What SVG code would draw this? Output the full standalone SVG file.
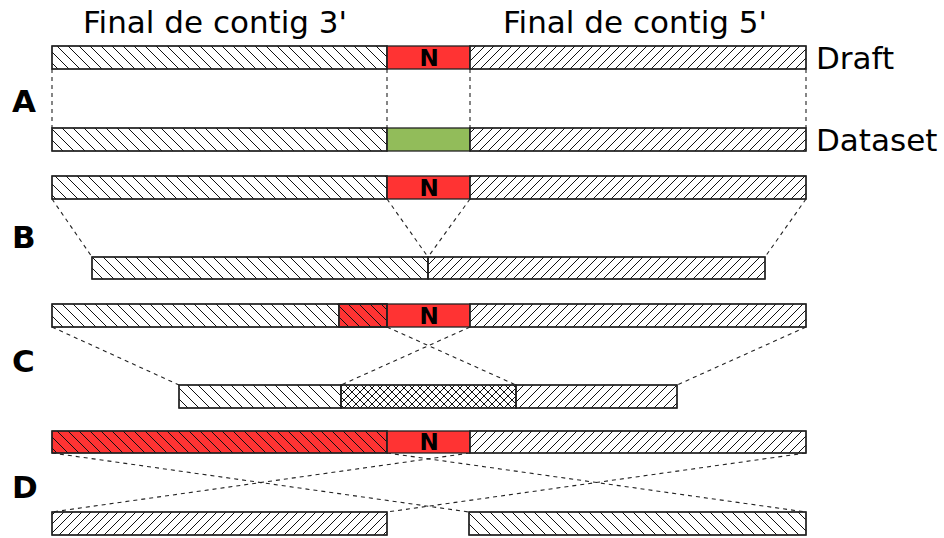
<svg xmlns="http://www.w3.org/2000/svg" width="944" height="538" viewBox="0 0 944 538">
<defs>
<pattern id="back" patternUnits="userSpaceOnUse" width="11" height="11">
<path d="M0,0 L11,11 M-1,10 L1,12 M10,-1 L12,1" stroke="#111" stroke-width="1" fill="none"/>
</pattern>
<pattern id="fwd" patternUnits="userSpaceOnUse" width="9" height="9">
<path d="M0,9 L9,0 M-1,1 L1,-1 M8,10 L10,8" stroke="#111" stroke-width="1" fill="none"/>
</pattern>
<pattern id="cross" patternUnits="userSpaceOnUse" width="8" height="8">
<path d="M0,0 L8,8 M-1,7 L1,9 M7,-1 L9,1 M0,8 L8,0 M-1,1 L1,-1 M7,9 L9,7" stroke="#111" stroke-width="1" fill="none"/>
</pattern>
</defs>
<style>
.bar{stroke:#222;stroke-width:1.3}
.w{fill:#fff}
.red{fill:#ff3333}
.green{fill:#92bc5a}
.b{fill:url(#back)}
.f{fill:url(#fwd)}
.x{fill:url(#cross)}
.dash{stroke:#222;stroke-width:1.1;stroke-dasharray:4,4;fill:none}
.title{font-family:"DejaVu Sans",sans-serif;font-size:31px;fill:#000}
.lab{font-family:"DejaVu Sans",sans-serif;font-size:31px;font-weight:bold;fill:#000}
.n{font-family:"DejaVu Sans",sans-serif;font-size:23px;font-weight:bold;fill:#000;text-anchor:middle}
</style>
<g id="titles">
<text class="title" x="83" y="33">Final de contig 3'</text>
<text class="title" x="503" y="33">Final de contig 5'</text>
<text class="title" x="816" y="69">Draft</text>
<text class="title" x="816" y="151">Dataset</text>
</g>
<g id="labels">
<text class="lab" x="12" y="112">A</text>
<text class="lab" x="12" y="248">B</text>
<text class="lab" x="12" y="372">C</text>
<text class="lab" x="12" y="498">D</text>
</g>
<g id="connectors">
<line class="dash" x1="52" y1="69" x2="52" y2="128"/>
<line class="dash" x1="387" y1="69" x2="387" y2="128"/>
<line class="dash" x1="470" y1="69" x2="470" y2="128"/>
<line class="dash" x1="806" y1="69" x2="806" y2="128"/>
<line class="dash" x1="52" y1="199" x2="92" y2="257"/>
<line class="dash" x1="387" y1="199" x2="428" y2="257"/>
<line class="dash" x1="470" y1="199" x2="428" y2="257"/>
<line class="dash" x1="806" y1="199" x2="765" y2="257"/>
<line class="dash" x1="52" y1="327" x2="179" y2="385"/>
<line class="dash" x1="387" y1="327" x2="516" y2="385"/>
<line class="dash" x1="470" y1="327" x2="341" y2="385"/>
<line class="dash" x1="806" y1="327" x2="677" y2="385"/>
<line class="dash" x1="52" y1="453" x2="469" y2="512"/>
<line class="dash" x1="387" y1="453" x2="806" y2="512"/>
<line class="dash" x1="470" y1="453" x2="52" y2="512"/>
<line class="dash" x1="806" y1="453" x2="387" y2="512"/>
</g>
<g id="A-draft">
<rect class="bar w" x="52" y="46" width="335" height="23"/>
<rect class="b" x="52" y="46" width="335" height="23"/>
<rect class="bar red" x="387" y="46" width="83" height="23"/>
<rect class="bar w" x="470" y="46" width="336" height="23"/>
<rect class="f" x="470" y="46" width="336" height="23"/>
<rect class="bar" fill="none" x="52" y="46" width="335" height="23"/>
<rect class="bar" fill="none" x="470" y="46" width="336" height="23"/>
<text class="n" x="429" y="66">N</text>
</g>
<g id="A-dataset">
<rect class="bar w" x="52" y="128" width="335" height="23"/>
<rect class="b" x="52" y="128" width="335" height="23"/>
<rect class="bar green" x="387" y="128" width="83" height="23"/>
<rect class="bar w" x="470" y="128" width="336" height="23"/>
<rect class="f" x="470" y="128" width="336" height="23"/>
<rect class="bar" fill="none" x="52" y="128" width="335" height="23"/>
<rect class="bar" fill="none" x="470" y="128" width="336" height="23"/>
</g>
<g id="B-top">
<rect class="bar w" x="52" y="176" width="335" height="23"/>
<rect class="b" x="52" y="176" width="335" height="23"/>
<rect class="bar red" x="387" y="176" width="83" height="23"/>
<rect class="bar w" x="470" y="176" width="336" height="23"/>
<rect class="f" x="470" y="176" width="336" height="23"/>
<rect class="bar" fill="none" x="52" y="176" width="335" height="23"/>
<rect class="bar" fill="none" x="470" y="176" width="336" height="23"/>
<text class="n" x="429" y="196">N</text>
</g>
<g id="B-bottom">
<rect class="bar w" x="92" y="257" width="336" height="22"/>
<rect class="b" x="92" y="257" width="336" height="22"/>
<rect class="bar w" x="428" y="257" width="337" height="22"/>
<rect class="f" x="428" y="257" width="337" height="22"/>
<rect class="bar" fill="none" x="92" y="257" width="336" height="22"/>
<rect class="bar" fill="none" x="428" y="257" width="337" height="22"/>
</g>
<g id="C-top">
<rect class="bar w" x="52" y="304" width="287" height="23"/>
<rect class="b" x="52" y="304" width="287" height="23"/>
<rect class="bar red" x="339" y="304" width="48" height="23"/>
<rect class="b" x="339" y="304" width="48" height="23"/>
<rect class="bar red" x="387" y="304" width="83" height="23"/>
<rect class="bar w" x="470" y="304" width="336" height="23"/>
<rect class="f" x="470" y="304" width="336" height="23"/>
<rect class="bar" fill="none" x="52" y="304" width="335" height="23"/>
<rect class="bar" fill="none" x="339" y="304" width="48" height="23"/>
<rect class="bar" fill="none" x="470" y="304" width="336" height="23"/>
<text class="n" x="429" y="324">N</text>
</g>
<g id="C-bottom">
<rect class="bar w" x="179" y="385" width="162" height="23"/>
<rect class="b" x="179" y="385" width="162" height="23"/>
<rect class="bar w" x="341" y="385" width="175" height="23"/>
<rect class="x" x="341" y="385" width="175" height="23"/>
<rect class="bar w" x="516" y="385" width="161" height="23"/>
<rect class="f" x="516" y="385" width="161" height="23"/>
<rect class="bar" fill="none" x="179" y="385" width="162" height="23"/>
<rect class="bar" fill="none" x="341" y="385" width="175" height="23"/>
<rect class="bar" fill="none" x="516" y="385" width="161" height="23"/>
</g>
<g id="D-top">
<rect class="bar red" x="52" y="431" width="335" height="22"/>
<rect class="b" x="52" y="431" width="335" height="22"/>
<rect class="bar red" x="387" y="431" width="83" height="22"/>
<rect class="bar w" x="470" y="431" width="336" height="22"/>
<rect class="f" x="470" y="431" width="336" height="22"/>
<rect class="bar" fill="none" x="52" y="431" width="335" height="22"/>
<rect class="bar" fill="none" x="470" y="431" width="336" height="22"/>
<text class="n" x="429" y="450">N</text>
</g>
<g id="D-bottom">
<rect class="bar w" x="52" y="512" width="335" height="23"/>
<rect class="f" x="52" y="512" width="335" height="23"/>
<rect class="bar w" x="469" y="512" width="337" height="23"/>
<rect class="b" x="469" y="512" width="337" height="23"/>
<rect class="bar" fill="none" x="52" y="512" width="335" height="23"/>
<rect class="bar" fill="none" x="469" y="512" width="337" height="23"/>
</g>
</svg>
